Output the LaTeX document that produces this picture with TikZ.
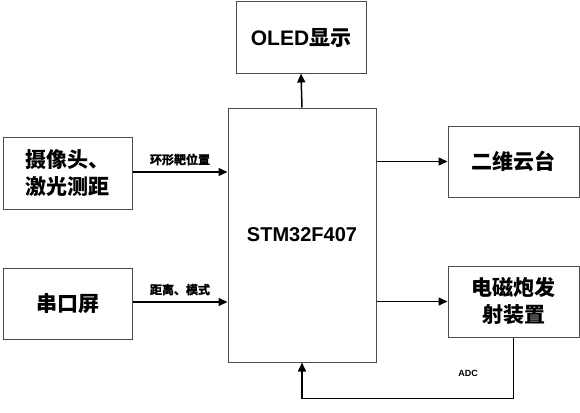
\documentclass[tikz,border=0pt]{standalone}
\usepackage{fontspec}
\setmainfont{Liberation Sans}
\newfontfamily\cjk{Noto Sans CJK SC Bold}
\newfontfamily\cjkheavy{Noto Sans CJK SC Bold}[FakeBold=2]
\usetikzlibrary{arrows.meta}

\begin{document}
\begin{tikzpicture}[x=1pt,y=-1pt,
  every node/.style = {align=center, font=\bfseries},
  block/.style = {shape=rectangle, draw=black!70, line width=1pt,
    inner sep=0pt, font=\fontsize{21}{27}\selectfont\bfseries},
  tag/.style = {font=\fontsize{12}{14}\selectfont\cjkheavy, inner sep=1pt},
  link/.style = {line width=1.5pt, -{Triangle[length=9pt,width=8pt]}}]
  \useasboundingbox (0,0) rectangle (580,412);
  \node[block, minimum width=130pt, minimum height=71pt] (oled) at (301,37.5) {OLED{\cjk 显示}};
  \node[block, minimum width=148pt, minimum height=254pt] (mcu) at (302,235)
    {\fontsize{20}{24}\selectfont STM32F407};
  \node[block, minimum width=129pt, minimum height=72pt] (cam) at (67.5,173)
    {\cjk 摄像头、\\\cjk 激光测距};
  \node[block, minimum width=129pt, minimum height=71pt] (uart) at (67.5,303.5) {\cjk 串口屏};
  \node[block, minimum width=131pt, minimum height=71pt] (gimbal) at (513.5,161.5) {\cjk 二维云台};
  \node[block, minimum width=131pt, minimum height=71pt] (coil) at (513.5,301.5)
    {\cjk 电磁炮发\\\cjk 射装置};
  \draw[link] (cam.east |- 0,172) -- node[tag, above=5pt] {环形靶位置} (mcu.west |- 0,172);
  \draw[link] (uart.east |- 0,302) -- node[tag, above=5pt] {距离、模式} (mcu.west |- 0,302);
  \draw[link] (mcu.north) -- (oled.south);
  \draw[link] (mcu.east |- gimbal.west) -- (gimbal.west);
  \draw[link] (mcu.east |- coil.west) -- (coil.west);
  \draw[link] (coil.south) -- ++(0,61) -| (mcu.south);
  \node[font=\fontsize{9}{11}\selectfont\bfseries] (adc) at (468,373) {ADC};
\end{tikzpicture}
\end{document}
